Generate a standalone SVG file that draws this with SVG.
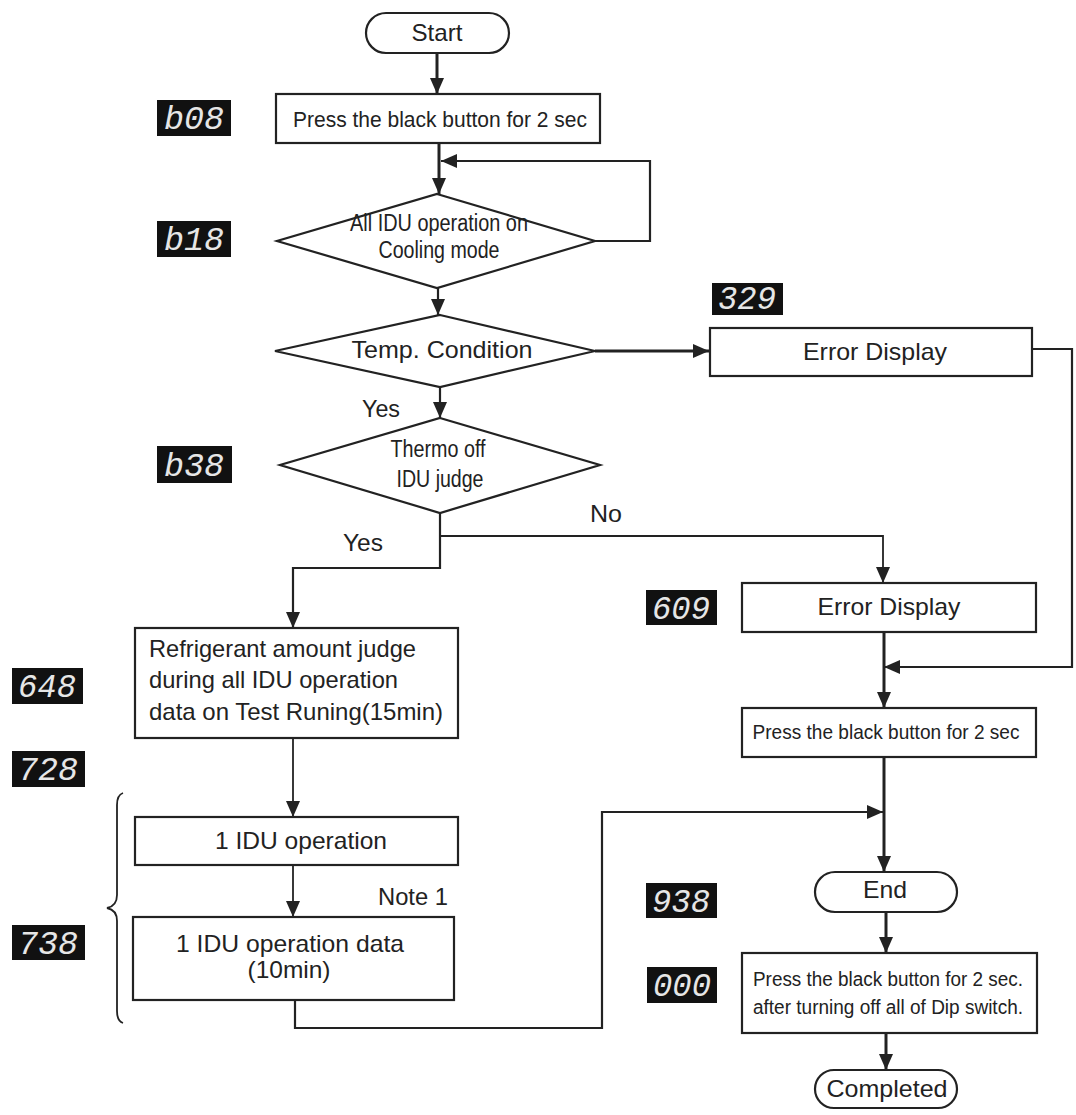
<svg xmlns="http://www.w3.org/2000/svg" width="1076" height="1115" viewBox="0 0 1076 1115">
<style>
.shape{fill:#fff;stroke:#222;stroke-width:2.2}
.t{font-family:"Liberation Sans",Arial,sans-serif;font-size:24px;fill:#222;text-anchor:middle}
.tc{font-family:"Liberation Sans",Arial,sans-serif;font-size:23px;fill:#222;text-anchor:middle}
.tl{font-family:"Liberation Sans",Arial,sans-serif;font-size:24px;fill:#222}
.seg{fill:#111}
.segt{font-family:"Liberation Mono","DejaVu Sans Mono",monospace;font-style:italic;font-size:34px;fill:#e6e6e6;text-anchor:middle}
.c{fill:none;stroke:#222}
.k{stroke-width:3}
.m{stroke-width:2.2}
.n{stroke-width:1.8}
</style>
<defs>
<marker id="ah" markerUnits="userSpaceOnUse" markerWidth="16" markerHeight="16" refX="16" refY="8" orient="auto">
<path d="M0,1 L16,8 L0,15 z" fill="#222"/>
</marker>
</defs>

<g id="connectors">
<path class="c k" d="M437,53 V94" marker-end="url(#ah)"/>
<path class="c k" d="M439,143 V194" marker-end="url(#ah)"/>
<path class="c m" d="M595,241 H650 V161 H441" marker-end="url(#ah)"/>
<path class="c m" d="M438,288 V315" marker-end="url(#ah)"/>
<path class="c k" d="M595,351 H709" marker-end="url(#ah)"/>
<path class="c m" d="M1032,349 H1072 V667 H884" marker-end="url(#ah)"/>
<path class="c m" d="M440,387 V418" marker-end="url(#ah)"/>
<path class="c m" d="M440,513 V568 H293 V628" marker-end="url(#ah)"/>
<path class="c n" d="M440,536 H883 V583" marker-end="url(#ah)"/>
<path class="c k" d="M884,632 V708" marker-end="url(#ah)"/>
<path class="c k" d="M884,757 V872" marker-end="url(#ah)"/>
<path class="c n" d="M293,738 V817" marker-end="url(#ah)"/>
<path class="c n" d="M293,865 V917" marker-end="url(#ah)"/>
<path class="c m" d="M295,1000 V1028 H602 V812 H883" marker-end="url(#ah)"/>
<path class="c k" d="M886,912 V953" marker-end="url(#ah)"/>
<path class="c k" d="M886,1033 V1070" marker-end="url(#ah)"/>
</g>

<g id="brace">
<path class="c n" d="M123,793 Q117,795 117,805 V895 Q117,906 107,908 Q117,910 117,921 V1011 Q117,1021 123,1023"/>
</g>

<g id="start">
<rect class="shape" x="366" y="13" width="143" height="40" rx="20"/>
<text class="t" x="437" y="41" textLength="51" lengthAdjust="spacingAndGlyphs">Start</text>
</g>

<g id="press1">
<rect class="shape" x="276" y="94" width="324" height="49"/>
<text class="t" x="440" y="127" textLength="294" lengthAdjust="spacingAndGlyphs" style="font-size:22px">Press the black button for 2 sec</text>
</g>

<g id="cooling">
<polygon class="shape" points="437,194 595,241 437,288 277,241"/>
<text class="tc" x="439" y="231" textLength="178" lengthAdjust="spacingAndGlyphs">All IDU operation on</text>
<text class="tc" x="439" y="258" textLength="121" lengthAdjust="spacingAndGlyphs">Cooling mode</text>
</g>

<g id="temp">
<polygon class="shape" points="440,315 595,351 440,387 275,351"/>
<text class="t" x="442" y="358" textLength="181" lengthAdjust="spacingAndGlyphs">Temp. Condition</text>
</g>

<g id="error1">
<rect class="shape" x="710" y="328" width="322" height="48"/>
<text class="t" x="875" y="360" textLength="144" lengthAdjust="spacingAndGlyphs">Error Display</text>
</g>

<g id="thermo">
<polygon class="shape" points="440,418 600,465 440,513 280,465"/>
<text class="tc" x="438" y="457" textLength="95" lengthAdjust="spacingAndGlyphs">Thermo off</text>
<text class="tc" x="440" y="487" textLength="87" lengthAdjust="spacingAndGlyphs">IDU judge</text>
</g>

<g id="labels">
<text class="t" x="381" y="417" textLength="38" lengthAdjust="spacingAndGlyphs">Yes</text>
<text class="t" x="606" y="522" textLength="32" lengthAdjust="spacingAndGlyphs">No</text>
<text class="t" x="363" y="551" textLength="40" lengthAdjust="spacingAndGlyphs">Yes</text>
<text class="tl" x="378" y="905" textLength="70" lengthAdjust="spacingAndGlyphs">Note 1</text>
</g>

<g id="error2">
<rect class="shape" x="742" y="583" width="294" height="49"/>
<text class="t" x="889" y="615" textLength="143" lengthAdjust="spacingAndGlyphs">Error Display</text>
</g>

<g id="press2">
<rect class="shape" x="742" y="708" width="294" height="49"/>
<text class="tc" x="886" y="739" textLength="267" lengthAdjust="spacingAndGlyphs" style="font-size:21px">Press the black button for 2 sec</text>
</g>

<g id="end">
<rect class="shape" x="815" y="872" width="142" height="40" rx="20"/>
<text class="t" x="885" y="898" textLength="44" lengthAdjust="spacingAndGlyphs">End</text>
</g>

<g id="press3">
<rect class="shape" x="742" y="953" width="295" height="80"/>
<text class="tc" x="888" y="986" textLength="270" lengthAdjust="spacingAndGlyphs" style="font-size:20px">Press the black button for 2 sec.</text>
<text class="tc" x="888" y="1014" textLength="270" lengthAdjust="spacingAndGlyphs" style="font-size:20px">after turning off all of Dip switch.</text>
</g>

<g id="completed">
<rect class="shape" x="815" y="1070" width="142" height="38" rx="19"/>
<text class="t" x="887" y="1097" textLength="121" lengthAdjust="spacingAndGlyphs">Completed</text>
</g>

<g id="refrigerant">
<rect class="shape" x="135" y="628" width="323" height="110"/>
<text class="tl" x="149" y="657" textLength="267" lengthAdjust="spacingAndGlyphs">Refrigerant amount judge</text>
<text class="tl" x="149" y="688" textLength="249" lengthAdjust="spacingAndGlyphs">during all IDU operation</text>
<text class="tl" x="149" y="720" textLength="294" lengthAdjust="spacingAndGlyphs">data on Test Runing(15min)</text>
</g>

<g id="idu1">
<rect class="shape" x="135" y="817" width="323" height="48"/>
<text class="t" x="301" y="849" textLength="172" lengthAdjust="spacingAndGlyphs">1 IDU operation</text>
</g>

<g id="idudata">
<rect class="shape" x="133" y="917" width="321" height="83"/>
<text class="t" x="290" y="952" textLength="228" lengthAdjust="spacingAndGlyphs">1 IDU operation data</text>
<text class="t" x="289" y="978" textLength="83" lengthAdjust="spacingAndGlyphs">(10min)</text>
</g>

<g id="displays">
<g id="d-b08"><rect class="seg" x="157" y="100" width="74" height="36"/><text class="segt" x="194" y="129" textLength="60" lengthAdjust="spacingAndGlyphs">b08</text></g>
<g id="d-b18"><rect class="seg" x="157" y="221" width="74" height="36"/><text class="segt" x="194" y="250" textLength="60" lengthAdjust="spacingAndGlyphs">b18</text></g>
<g id="d-329"><rect class="seg" x="712" y="283" width="71" height="32"/><text class="segt" x="747" y="309" textLength="58" lengthAdjust="spacingAndGlyphs">329</text></g>
<g id="d-b38"><rect class="seg" x="157" y="446" width="75" height="37"/><text class="segt" x="194" y="476" textLength="60" lengthAdjust="spacingAndGlyphs">b38</text></g>
<g id="d-609"><rect class="seg" x="646" y="590" width="71" height="35"/><text class="segt" x="681" y="619" textLength="58" lengthAdjust="spacingAndGlyphs">609</text></g>
<g id="d-648"><rect class="seg" x="12" y="668" width="71" height="36"/><text class="segt" x="47" y="697" textLength="58" lengthAdjust="spacingAndGlyphs">648</text></g>
<g id="d-728"><rect class="seg" x="12" y="751" width="73" height="36"/><text class="segt" x="48" y="780" textLength="60" lengthAdjust="spacingAndGlyphs">728</text></g>
<g id="d-738"><rect class="seg" x="12" y="925" width="73" height="35"/><text class="segt" x="48" y="954" textLength="60" lengthAdjust="spacingAndGlyphs">738</text></g>
<g id="d-938"><rect class="seg" x="646" y="883" width="71" height="35"/><text class="segt" x="681" y="912" textLength="58" lengthAdjust="spacingAndGlyphs">938</text></g>
<g id="d-000"><rect class="seg" x="647" y="967" width="70" height="36"/><text class="segt" x="682" y="996" textLength="58" lengthAdjust="spacingAndGlyphs">000</text></g>
</g>
</svg>
